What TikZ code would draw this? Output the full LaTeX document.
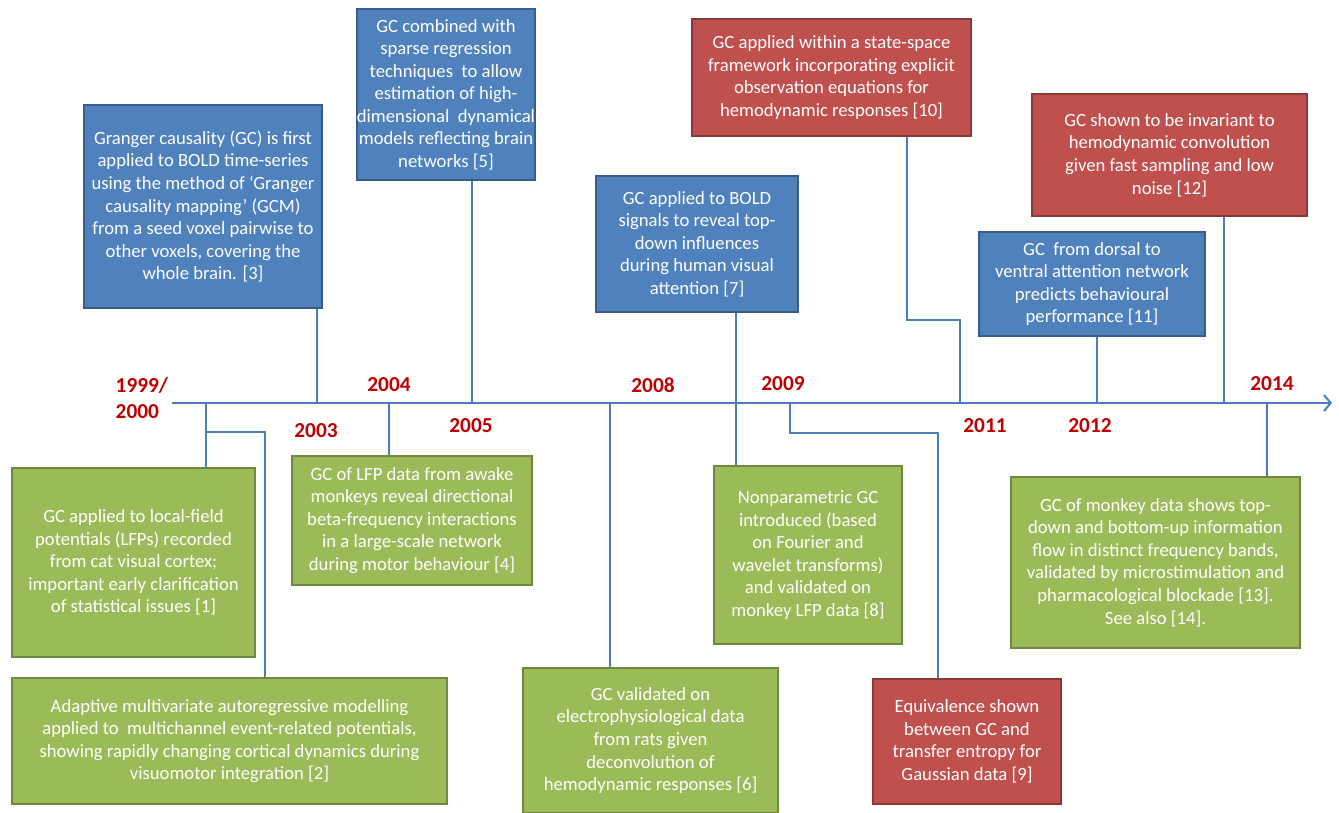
\documentclass[tikz,border=0pt]{standalone}
\usepackage{fontspec}
\setmainfont{Carlito}
\usetikzlibrary{arrows.meta}
\definecolor{boxblue}{HTML}{4F81BD}
\definecolor{edgeblue}{HTML}{385D8A}
\definecolor{boxred}{HTML}{C0504D}
\definecolor{edgered}{HTML}{8C3836}
\definecolor{boxgreen}{HTML}{9BBB59}
\definecolor{edgegreen}{HTML}{71893F}
\definecolor{linkblue}{HTML}{4A7EBB}
\definecolor{yearred}{HTML}{C00000}
\tikzset{
	event/.style={rectangle, inner sep=0pt, line width=2pt, text=white, align=center, font=\fontsize{14}{16.9}\selectfont},
	bluebox/.style={event, fill=boxblue, draw=edgeblue},
	redbox/.style={event, fill=boxred, draw=edgered},
	greenbox/.style={event, fill=boxgreen, draw=edgegreen},
	year/.style={text=yearred, font=\fontsize{16}{19.5}\selectfont\bfseries},
	link/.style={draw=linkblue, line width=1pt},
	axis/.style={draw=linkblue, line width=1.5pt, -{Straight Barb[length=5pt,width=12pt]}}
}
\begin{document}
\begin{tikzpicture}[x=0.75pt,y=-0.75pt]
	\useasboundingbox (0,0) rectangle (1339,813);
	\node[bluebox, minimum width=178.5pt, minimum height=152.25pt] at (203,206.5) (gcm) {Granger causality (GC) is first\\applied to BOLD time-series\\using the method of `Granger\\causality mapping' (GCM)\\from a seed voxel pairwise to\\other voxels, covering the\\whole brain. [3]};
	\node[bluebox, minimum width=117pt, minimum height=128.25pt] at (446,94.5) (sparse) {GC combined with\\sparse regression\\techniques\ \ to allow\\estimation of high-\\dimensional\ \ dynamical\\models reflecting brain\\networks [5]};
	\node[bluebox, minimum width=151.5pt, minimum height=102pt] at (697,244) (topdown) {GC applied to BOLD\\signals to reveal top-\\down influences\\during human visual\\attention [7]};
	\node[redbox, minimum width=209.25pt, minimum height=87.75pt] at (831.5,77.5) (statespace) {GC applied within a state-space\\framework incorporating explicit\\observation equations for\\hemodynamic responses [10]};
	\node[redbox, minimum width=206.25pt, minimum height=91.5pt] at (1169.5,155) (invariant) {GC shown to be invariant to\\hemodynamic convolution\\given fast sampling and low\\noise [12]};
	\node[bluebox, minimum width=169.5pt, minimum height=78pt] at (1092,284) (dorsal) {GC\ \ from dorsal to\\ventral attention network\\predicts behavioural\\performance [11]};
	\node[greenbox, minimum width=182.25pt, minimum height=141.75pt] at (133.5,562.5) (cat) {GC applied to local-field\\potentials (LFPs) recorded\\from cat visual cortex;\\important early clarification\\of statistical issues [1]};
	\node[greenbox, minimum width=326.25pt, minimum height=94.5pt] at (229.5,741) (adaptive) {Adaptive multivariate autoregressive modelling\\applied to\ \ multichannel event-related potentials,\\showing rapidly changing cortical dynamics during\\visuomotor integration [2]};
	\node[greenbox, minimum width=180pt, minimum height=96.75pt] at (412,520.5) (lfp) {GC of LFP data from awake\\monkeys reveal directional\\beta-frequency interactions\\in a large-scale network\\during motor behaviour [4]};
	\node[greenbox, minimum width=191.25pt, minimum height=108.75pt] at (650.5,740.5) (rats) {GC validated on\\electrophysiological data\\from rats given\\deconvolution of\\hemodynamic responses [6]};
	\node[greenbox, minimum width=141pt, minimum height=133.5pt] at (808,555) (nonparam) {Nonparametric GC\\introduced (based\\on Fourier and\\wavelet transforms)\\and validated on\\monkey LFP data [8]};
	\node[redbox, minimum width=141pt, minimum height=93.75pt] at (967,741.5) (equiv) {Equivalence shown\\between GC and\\transfer entropy for\\Gaussian data [9]};
	\node[greenbox, minimum width=216.75pt, minimum height=128.25pt] at (1155.5,562.5) (bands) {GC of monkey data shows top-\\down and bottom-up information\\flow in distinct frequency bands,\\validated by microstimulation and\\pharmacological blockade [13].\\See also [14].};
	\node[year, align=left, anchor=west] at (111,398) (y1999) {1999/\\2000};
	\node[year] at (316,431) (y2003) {2003};
	\node[year] at (389,385) (y2004) {2004};
	\node[year] at (471,426) (y2005) {2005};
	\node[year] at (653,385) (y2008) {2008};
	\node[year] at (783,384) (y2009) {2009};
	\node[year] at (985,426) (y2011) {2011};
	\node[year] at (1090,426) (y2012) {2012};
	\node[year] at (1272,384) (y2014) {2014};
	\coordinate (start) at (172,403);
	\coordinate (end) at (1332,403);
	\coordinate (t1999) at (206,403);
	\coordinate (k1999) at (265,432);
	\coordinate (t2003) at (317,403);
	\coordinate (t2004) at (389,403);
	\coordinate (t2005) at (472,403);
	\coordinate (t2006) at (610,403);
	\coordinate (t2008) at (736,403);
	\coordinate (t2009) at (790,403);
	\coordinate (k2009) at (938,433);
	\coordinate (t2011) at (960,403);
	\coordinate (k2011) at (907,320);
	\coordinate (t2012) at (1097,403);
	\coordinate (t2013) at (1224,403);
	\coordinate (t2014) at (1267,403);
	\path[axis] (start) -- (end);
	\path[link] (t1999) -- (t1999 |- cat.north)
	(t1999 |- k1999) -- (k1999) -- (k1999 |- adaptive.north)
	(t2003) -- (t2003 |- gcm.south)
	(t2004) -- (t2004 |- lfp.north)
	(t2005) -- (t2005 |- sparse.south)
	(t2006) -- (t2006 |- rats.north)
	(t2008 |- topdown.south) -- (t2008 |- nonparam.north)
	(t2009) |- (k2009) -- (k2009 |- equiv.north)
	(t2011) |- (k2011) -- (k2011 |- statespace.south)
	(t2012) -- (t2012 |- dorsal.south)
	(t2013) -- (t2013 |- invariant.south)
	(t2014) -- (t2014 |- bands.north);
\end{tikzpicture}
\end{document}
